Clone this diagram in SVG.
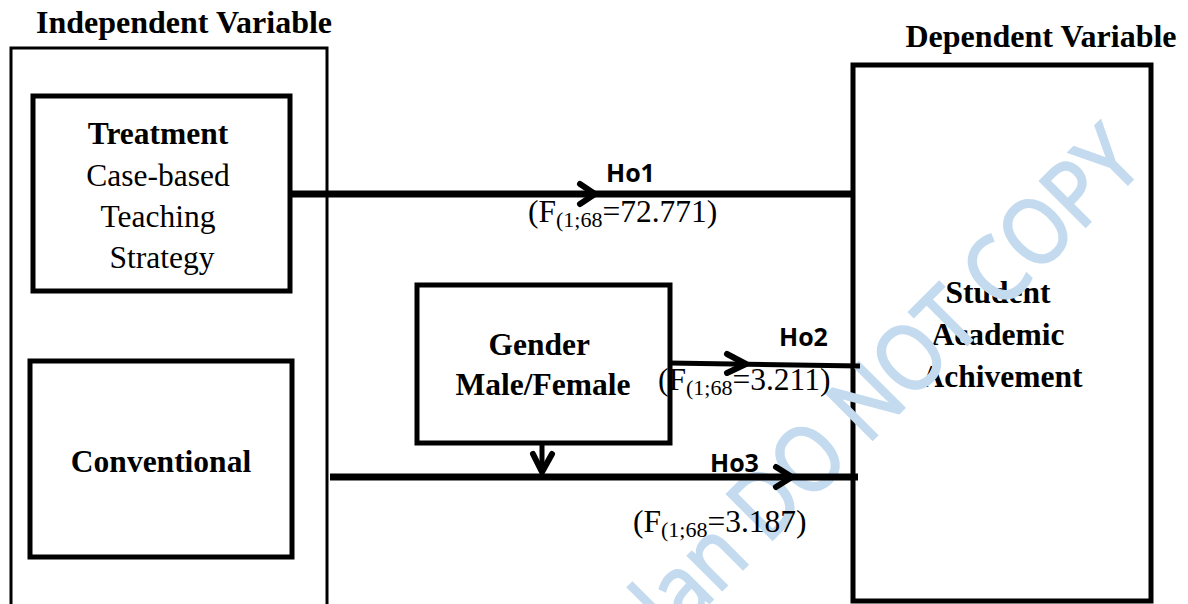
<svg xmlns="http://www.w3.org/2000/svg" width="1188" height="604" viewBox="0 0 1188 604">
  <style>
    .box { fill: #fff; stroke: #000; stroke-width: 5; }
    .outer { fill: none; stroke: #000; stroke-width: 3; }
    .serif { font-family: "Liberation Serif", "Times New Roman", serif; font-size: 31.5px; fill: #000; }
    .bold { font-weight: bold; }
    .title { font-size: 32px; }
    .hlabel { font-family: "Open Sans", "Liberation Sans", sans-serif; font-weight: bold; font-size: 25px; fill: #000; }
    .sub { font-size: 22px; }
    .line { fill: none; stroke: #000; stroke-width: 7; }
    .thin { fill: none; stroke: #000; stroke-width: 5; }
    .head { fill: none; stroke: #000; stroke-width: 6; stroke-linecap: round; stroke-linejoin: round; }
    .mark { font-family: "Open Sans", "Liberation Sans", sans-serif; font-weight: normal; font-size: 90px; fill: #c4dbef; stroke: #c4dbef; stroke-width: 2.5; }
  </style>

  <rect width="1188" height="604" fill="#fff"/>

  <!-- headings -->
  <text class="serif bold title" x="184" y="33" text-anchor="middle">Independent Variable</text>
  <text class="serif bold title" x="1041" y="47" text-anchor="middle">Dependent Variable</text>

  <!-- independent variable frame -->
  <g id="independent">
    <rect class="outer" x="11" y="48" width="316" height="580"/>
  </g>

  <g id="treatment">
    <rect class="box" x="33" y="96" width="257" height="195"/>
    <text class="serif" text-anchor="middle">
      <tspan class="bold" x="162" y="144">Treatment</tspan>
      <tspan x="162" y="186">Case-based</tspan>
      <tspan x="162" y="227">Teaching</tspan>
      <tspan x="162" y="268">Strategy</tspan>
    </text>
  </g>

  <g id="conventional">
    <rect class="box" x="30" y="361" width="262" height="196"/>
    <text class="serif bold" x="161" y="472" text-anchor="middle">Conventional</text>
  </g>

  <g id="gender">
    <rect class="box" x="417" y="285" width="253" height="158"/>
    <text class="serif bold" text-anchor="middle">
      <tspan x="543" y="355">Gender</tspan>
      <tspan x="543" y="395">Male/Female</tspan>
    </text>
  </g>

  <g id="achievement">
    <rect class="box" x="853" y="65" width="298" height="536" stroke-width="4.5"/>
    <text class="serif bold" text-anchor="middle">
      <tspan x="1002" y="303">Student</tspan>
      <tspan x="1002" y="345">Academic</tspan>
      <tspan x="1002" y="387">Achivement</tspan>
    </text>
  </g>

  <!-- watermark -->
  <text class="mark" transform="translate(1146,166) rotate(-45)" text-anchor="end" textLength="700" lengthAdjust="spacingAndGlyphs">dan DO NOT COPY</text>

  <!-- connectors -->
  <g id="connectors">
    <line class="line" x1="290" y1="194" x2="853" y2="194"/>
    <polyline class="head" points="580,184 595,194 580,204"/>

    <line class="thin" x1="669" y1="363" x2="860" y2="366"/>
    <polyline class="head" points="727,354 746,364 727,373"/>

    <line class="line" x1="330" y1="477" x2="858" y2="477"/>
    <polyline class="head" points="776,467 792,477 776,487"/>

    <line class="thin" x1="542" y1="443" x2="542" y2="472"/>
    <polyline class="head" points="533,454 542,472 552,454"/>
  </g>

  <!-- hypothesis labels -->
  <g id="labels">
    <text class="hlabel" x="606" y="182">Ho1</text>
    <text class="serif" x="528" y="222">(F<tspan class="sub" dy="5">(1;68</tspan><tspan dy="-5">=72.771)</tspan></text>

    <text class="hlabel" x="779" y="346">Ho2</text>
    <text class="serif" x="658" y="390">(F<tspan class="sub" dy="5">(1;68</tspan><tspan dy="-5">=3.211)</tspan></text>

    <text class="hlabel" x="710" y="472">Ho3</text>
    <text class="serif" x="633" y="532">(F<tspan class="sub" dy="5">(1;68</tspan><tspan dy="-5">=3.187)</tspan></text>
  </g>
</svg>
